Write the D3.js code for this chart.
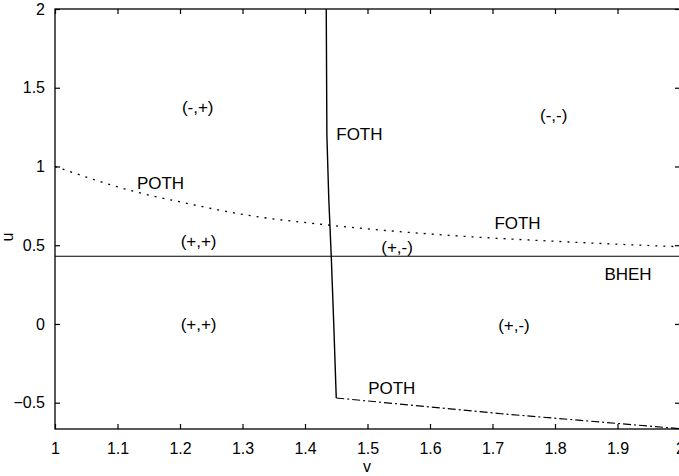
<!DOCTYPE html>
<html>
<head>
<meta charset="utf-8">
<script src="https://cdn.jsdelivr.net/npm/d3@7"></script>
<style>
  body { margin: 0; background: #fff; }
  text { font-family: "Liberation Sans", Arial, sans-serif; fill: #000; }
</style>
</head>
<body>
<div id="chart"></div>
<script>
// curve data
const fothVertical = [[1.434, 2], [1.435, 1.2], [1.438, 0.8], [1.442, 0.43], [1.446, 0], [1.450, -0.47]];
const pothLower = [[1.450, -0.47], [1.714, -0.57], [2, -0.665]];
const dottedCurve = [[1, 1.0], [1.128, 0.84], [1.2, 0.775], [1.309, 0.69], [1.433, 0.63], [1.641, 0.56], [1.8, 0.525], [2, 0.49]];
const bhehLevel = 0.43;

const xTicks = [1, 1.1, 1.2, 1.3, 1.4, 1.5, 1.6, 1.7, 1.8, 1.9, 2];
const yTicks = [-0.5, 0, 0.5, 1, 1.5, 2];

const labels = [
  {t: "(-,+)", v: 1.203, u: 1.34},
  {t: "(-,-)", v: 1.776, u: 1.29},
  {t: "FOTH", v: 1.45, u: 1.17},
  {t: "POTH", v: 1.131, u: 0.86},
  {t: "FOTH", v: 1.703, u: 0.60},
  {t: "(+,+)", v: 1.201, u: 0.49},
  {t: "(+,-)", v: 1.522, u: 0.45},
  {t: "BHEH", v: 1.879, u: 0.28},
  {t: "(+,+)", v: 1.201, u: -0.04},
  {t: "(+,-)", v: 1.709, u: -0.045},
  {t: "POTH", v: 1.501, u: -0.445}
];

const W = 679, H = 476;
const x = d3.scaleLinear().domain([1, 2]).range([55, 680]);
const y = d3.scaleLinear().domain([-0.667, 2]).range([429, 9]);

const svg = d3.select("#chart").append("svg")
  .attr("width", W).attr("height", H);

const line = d3.line().x(d => x(d[0])).y(d => y(d[1]));

// frame
svg.append("rect")
  .attr("x", x(1)).attr("y", y(2))
  .attr("width", x(2) - x(1)).attr("height", y(-0.667) - y(2))
  .attr("fill", "none").attr("stroke", "#000").attr("stroke-width", 1.3);

// axes with inward ticks
const gBottom = svg.append("g").attr("transform", `translate(0,${y(-0.667)})`)
  .call(d3.axisBottom(x).tickValues(xTicks).tickSizeInner(-5).tickSizeOuter(0).tickPadding(14).tickFormat(d3.format("")));
const gTop = svg.append("g").attr("transform", `translate(0,${y(2)})`)
  .call(d3.axisTop(x).tickValues(xTicks).tickSizeInner(-5).tickSizeOuter(0).tickFormat(""));
const gLeft = svg.append("g").attr("transform", `translate(${x(1)},0)`)
  .call(d3.axisLeft(y).tickValues(yTicks).tickSizeInner(-5).tickSizeOuter(0).tickPadding(10).tickFormat(d3.format("")));
const gRight = svg.append("g").attr("transform", `translate(${x(2)},0)`)
  .call(d3.axisRight(y).tickValues(yTicks).tickSizeInner(-5).tickSizeOuter(0).tickFormat(""));

[gBottom, gTop, gLeft, gRight].forEach(g => {
  g.select(".domain").remove();
  g.selectAll("line").attr("stroke", "#000").attr("stroke-width", 1.2);
  g.selectAll("text").attr("font-size", 16).attr("fill", "#000")
    .style("font-family", "'Liberation Sans', Arial, sans-serif");
});
gBottom.selectAll("text").attr("dy", "0.71em");

// curves
svg.append("path").datum(fothVertical).attr("d", line)
  .attr("fill", "none").attr("stroke", "#000").attr("stroke-width", 1.4);
svg.append("path").datum(pothLower).attr("d", line)
  .attr("fill", "none").attr("stroke", "#000").attr("stroke-width", 1.2)
  .attr("stroke-dasharray", "8,3,2,3");
svg.append("path").datum(dottedCurve).attr("d", d3.line().x(d => x(d[0])).y(d => y(d[1])).curve(d3.curveMonotoneX))
  .attr("fill", "none").attr("stroke", "#000").attr("stroke-width", 1.3)
  .attr("stroke-dasharray", "2,6");
svg.append("line")
  .attr("x1", x(1)).attr("x2", x(2))
  .attr("y1", y(bhehLevel)).attr("y2", y(bhehLevel))
  .attr("stroke", "#000").attr("stroke-width", 1.2);

// region labels
svg.selectAll(".lab").data(labels).enter().append("text")
  .attr("class", "lab")
  .attr("x", d => x(d.v)).attr("y", d => y(d.u))
  .attr("font-size", 17)
  .text(d => d.t);

// axis titles
svg.append("text").attr("x", 367).attr("y", 472)
  .attr("text-anchor", "middle").attr("font-size", 16).text("v");
svg.append("text").attr("transform", "translate(13,237) rotate(-90)")
  .attr("text-anchor", "middle").attr("font-size", 16).text("u");
</script>
</body>
</html>
